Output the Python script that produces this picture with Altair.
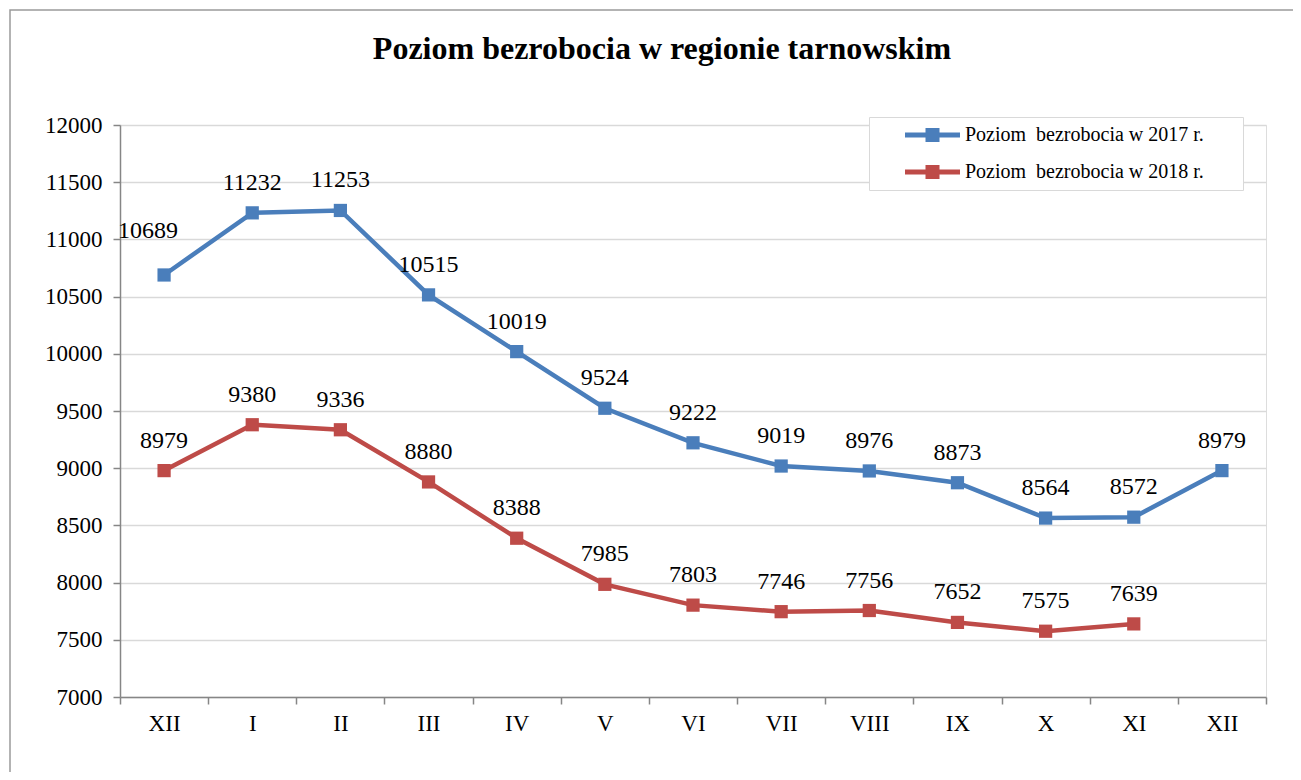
import json
import altair as alt
import pandas as pd

# ---- data ----
months = ["XII", "I", "II", "III", "IV", "V", "VI", "VII", "VIII", "IX", "X", "XI", "XII"]
values_2017 = [10689, 11232, 11253, 10515, 10019, 9524, 9222, 9019, 8976, 8873, 8564, 8572, 8979]
values_2018 = [8979, 9380, 9336, 8880, 8388, 7985, 7803, 7746, 7756, 7652, 7575, 7639]
series_names = ["Poziom\u00a0 bezrobocia w 2017 r.", "Poziom\u00a0 bezrobocia w 2018 r."]
series_colors = ["#4A7EBB", "#BE4B48"]
y_ticks = [7000, 7500, 8000, 8500, 9000, 9500, 10000, 10500, 11000, 11500, 12000]
title_text = "Poziom bezrobocia w regionie tarnowskim"

rows = []
for name, vals in zip(series_names, [values_2017, values_2018]):
    for i, v in enumerate(vals):
        rows.append({"series": name, "pos": i + 0.5, "month": months[i], "value": v})
df = pd.DataFrame(rows)

# ---- layout ----
W, H = 1146, 572
n = len(months)
band = W / n
FONT = "Liberation Serif"
AXIS_GREY = "#868686"

label_expr = "datum.value < %d ? %s[floor(datum.value)] : ''" % (n, json.dumps(months))

x_enc = alt.X(
    "pos:Q",
    scale=alt.Scale(domain=[0, n], nice=False, zero=False),
    axis=alt.Axis(
        values=list(range(n + 1)), labelExpr=label_expr, labelOffset=band / 2,
        grid=False, tickSize=7, tickWidth=1.5, tickColor=AXIS_GREY,
        domainColor=AXIS_GREY, domainWidth=1.5, labelFlush=False, labelOverlap=False,
        labelPadding=8, labelFont=FONT, labelFontSize=23, labelColor="black", title=None,
    ),
)
y_enc = alt.Y(
    "value:Q",
    scale=alt.Scale(domain=[7000, 12000], nice=False, zero=False),
    axis=alt.Axis(
        values=y_ticks, format="d", grid=True, gridColor="#D9D9D9", gridWidth=1.5,
        tickSize=7, tickWidth=1.5, tickColor=AXIS_GREY, domainColor=AXIS_GREY, domainWidth=1.5,
        labelPadding=11, labelFont=FONT, labelFontSize=23, labelColor="black", title=None,
    ),
)

# legend symbol: a line with a square marker, drawn to the right of a small symbol box
S = 20.0
legend_symbol = (
    "M1.8,-0.25H7.3V0.25H1.8Z "
    "M3.85,-0.7H5.25V0.7H3.85Z "
    "M34.8,0L34.8,0"
)

base = alt.Chart(df).encode(x=x_enc, y=y_enc)

line_layers = [
    base.transform_filter(alt.datum.series == name).mark_line(strokeWidth=4.5, color=col)
    for name, col in zip(series_names, series_colors)
]

points = base.mark_square(size=175, opacity=1).encode(
    color=alt.Color(
        "series:N", scale=alt.Scale(domain=series_names, range=series_colors),
        legend=alt.Legend(
            title=None, orient="none", legendX=749, legendY=-8,
            symbolType=legend_symbol, symbolSize=S * S, symbolStrokeWidth=0,
            labelFont=FONT, labelFontSize=20, labelColor="black", labelOffset=68,
            padding=8, rowPadding=17, strokeColor="#D9D9D9", fillColor="white",
            labelLimit=400,
        ),
    ),
)
first_blue = "datum.pos == 0.5 && datum.series == '%s'" % series_names[0]
text_enc = alt.Text("value:Q", format="d")
labels = base.mark_text(font=FONT, fontSize=24, baseline="alphabetic", dy=-23, color="black").encode(
    text=text_enc,
).transform_filter("!(%s)" % first_blue)
label_first = base.mark_text(font=FONT, fontSize=24, baseline="alphabetic", dx=-16, dy=-37,
                             color="black").encode(
    text=text_enc,
).transform_filter(first_blue)

frame = alt.Chart(pd.DataFrame({"f": [0]})).mark_rect(
    fillOpacity=0, stroke="#9A9A9A", strokeWidth=1.5
).encode(
    x=alt.value(-110), x2=alt.value(1200), y=alt.value(-115), y2=alt.value(720)
)

chart = alt.layer(frame, *line_layers, points, labels, label_first).properties(
    width=W, height=H,
    title=alt.TitleParams(title_text, font=FONT, fontSize=32, fontWeight="bold", color="black",
                          anchor="middle", dx=-31, offset=-82, baseline="alphabetic"),
    autosize=alt.AutoSizeParams(type="none"),
    padding={"left": 112, "top": 117, "right": 27, "bottom": 75},
).configure_view(stroke=None).configure(background="white")

chart.save("out.html", embed_options={"renderer": "svg", "actions": False})
